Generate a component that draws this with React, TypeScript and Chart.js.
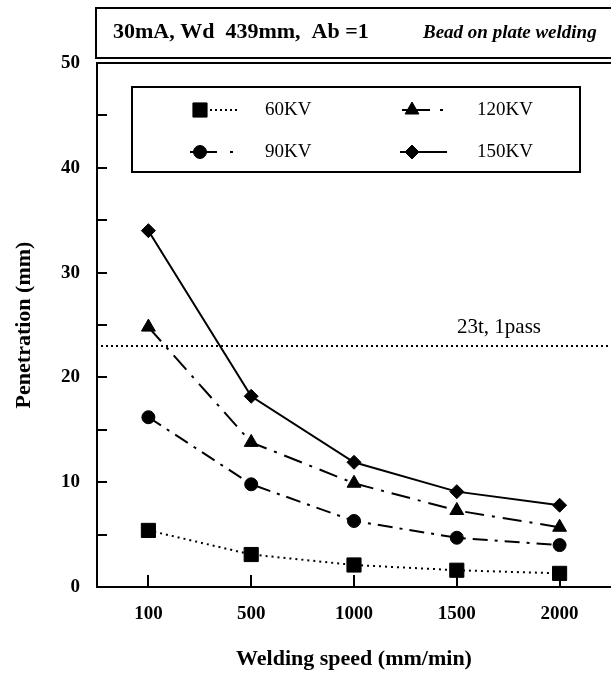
import { useEffect, useRef } from 'react';
import { Chart, registerables } from 'chart.js';
import { drawPoint } from 'chart.js/helpers';

Chart.register(...registerables);

// ---- data ----
const speeds = ['100', '500', '1000', '1500', '2000'];
const kv60 = [5.4, 3.1, 2.1, 1.6, 1.3];
const kv90 = [16.2, 9.8, 6.3, 4.7, 4.0];
const kv120 = [24.8, 13.8, 9.9, 7.3, 5.7];
const kv150 = [34.0, 18.2, 11.9, 9.1, 7.8];
const seriesNames = ['60KV', '90KV', '120KV', '150KV'];
const yLabelValues = [0, 10, 20, 30, 40, 50];
const refValue = 23;
const refLabel = '23t, 1pass';
const titleMain = '30mA, Wd  439mm,  Ab =1';
const titleItalic = 'Bead on plate welding';
const xTitle = 'Welding speed (mm/min)';
const yTitle = 'Penetration (mm)';

const SERIF = "'Liberation Serif', 'Times New Roman', serif";

const decor = {
  id: 'decor',
  beforeDatasetsDraw(chart: any) {
    const { ctx, chartArea: ca, scales } = chart;
    const x = scales.x;
    const y = scales.y;
    ctx.save();
    ctx.strokeStyle = '#000';
    ctx.lineWidth = 2;
    ctx.setLineDash([]);
    // y ticks (inward), every 5
    for (let v = 0; v <= 50; v += 5) {
      const py = Math.round(y.getPixelForValue(v));
      ctx.beginPath();
      ctx.moveTo(ca.left, py);
      ctx.lineTo(ca.left + 10, py);
      ctx.stroke();
    }
    // x ticks (inward)
    speeds.forEach((_, i) => {
      const px = Math.round(x.getPixelForValue(i));
      ctx.beginPath();
      ctx.moveTo(px, ca.bottom);
      ctx.lineTo(px, ca.bottom - 12);
      ctx.stroke();
    });
    // top frame line
    ctx.beginPath();
    ctx.moveTo(ca.left - 1, ca.top);
    ctx.lineTo(ca.right + 5, ca.top);
    ctx.stroke();
    // reference line
    const ry = Math.round(y.getPixelForValue(refValue));
    ctx.setLineDash([2, 3]);
    ctx.beginPath();
    ctx.moveTo(ca.left + 4, ry);
    ctx.lineTo(ca.right, ry);
    ctx.stroke();
    ctx.setLineDash([]);
    ctx.fillStyle = '#000';
    ctx.font = `21px ${SERIF}`;
    ctx.textBaseline = 'alphabetic';
    ctx.textAlign = 'left';
    ctx.fillText(refLabel, 457, ry - 13);
    ctx.restore();
  },
  afterDraw(chart: any) {
    const { ctx, chartArea: ca } = chart;
    ctx.save();
    ctx.strokeStyle = '#000';
    ctx.fillStyle = '#000';
    ctx.lineWidth = 2;
    ctx.setLineDash([]);
    // title box
    ctx.strokeRect(ca.left - 1, 8, ca.right - ca.left + 20, ca.top - 13);
    ctx.textBaseline = 'alphabetic';
    ctx.textAlign = 'left';
    ctx.font = `bold 22px ${SERIF}`;
    ctx.fillText(titleMain, 113, 38);
    ctx.font = `italic bold 19px ${SERIF}`;
    ctx.fillText(titleItalic, 423, 38);

    // legend box
    ctx.strokeRect(132, 87, 448, 85);
    const colX = [200, 412];
    const textX = [265, 477];
    const rowY = [110, 152];
    chart.data.datasets.forEach((ds: any, i: number) => {
      const col = Math.floor(i / 2);
      const row = i % 2;
      const mx = colX[col];
      const my = rowY[row];
      const seg = ds.legendSegment || [-10, 36];
      ctx.save();
      ctx.lineWidth = 2;
      ctx.setLineDash(ds.legendDash || []);
      ctx.beginPath();
      ctx.moveTo(mx + seg[0], my);
      ctx.lineTo(mx + seg[1], my);
      ctx.stroke();
      ctx.restore();
      ctx.save();
      ctx.lineWidth = 1;
      ctx.fillStyle = '#000';
      ctx.strokeStyle = '#000';
      drawPoint(ctx, { pointStyle: ds.pointStyle, radius: ds.pointRadius, rotation: 0, borderWidth: 1 } as any, mx, my);
      ctx.restore();
      ctx.font = `19px ${SERIF}`;
      ctx.textBaseline = 'middle';
      ctx.fillText(ds.label, textX[col], my);
    });
    ctx.restore();
  },
};

export default function App() {
  const ref = useRef<HTMLCanvasElement | null>(null);
  useEffect(() => {
    if (!ref.current) return;
    const base = {
      borderColor: '#000',
      backgroundColor: '#000',
      pointBackgroundColor: '#000',
      pointBorderColor: '#000',
      pointBorderWidth: 1,
      borderWidth: 2,
      tension: 0,
      fill: false,
    };
    const chart = new Chart(ref.current, {
      type: 'line',
      data: {
        labels: speeds,
        datasets: [
          { ...base, label: seriesNames[0], data: kv60, pointStyle: 'rect', pointRadius: 10, borderDash: [2, 4], legendDash: [2, 3], legendSegment: [0, 37] },
          { ...base, label: seriesNames[1], data: kv90, pointStyle: 'circle', pointRadius: 6.5, borderDash: [15, 7, 3, 7], legendDash: [27, 13, 3, 100], legendSegment: [-10, 34] },
          { ...base, label: seriesNames[2], data: kv120, pointStyle: 'triangle', pointRadius: 8, borderDash: [19, 8, 3, 8], legendDash: [28, 10, 3, 100], legendSegment: [-10, 31] },
          { ...base, label: seriesNames[3], data: kv150, pointStyle: 'rectRot', pointRadius: 7, borderDash: [], legendDash: [], legendSegment: [-12, 35] },
        ] as any,
      },
      options: {
        animation: false,
        responsive: false,
        devicePixelRatio: 1,
        layout: { autoPadding: false, padding: { top: 63, right: 0, left: 0, bottom: 0 } },
        plugins: { legend: { display: false }, title: { display: false }, tooltip: { enabled: false } },
        scales: {
          x: {
            type: 'category',
            offset: true,
            grid: { display: false, drawTicks: false },
            border: { display: true, color: '#000', width: 2 },
            ticks: { color: '#000', font: { family: SERIF, size: 19, weight: 'bold' }, padding: 16, maxRotation: 0, autoSkip: false },
            title: { display: true, text: xTitle, color: '#000', font: { family: SERIF, size: 22, weight: 'bold' }, padding: { top: 0, bottom: 3 } },
            afterFit: (s: any) => { s.height = 89; s.paddingLeft = 0; s.paddingRight = 0; },
          },
          y: {
            min: 0,
            max: 50,
            grid: { display: false, drawTicks: false },
            border: { display: true, color: '#000', width: 2 },
            ticks: {
              stepSize: 5,
              color: '#000',
              font: { family: SERIF, size: 19, weight: 'bold' },
              padding: 17,
              callback: (v: any) => (yLabelValues.includes(Number(v)) ? String(v) : ''),
            },
            title: { display: true, text: yTitle, color: '#000', font: { family: SERIF, size: 22, weight: 'bold' }, padding: { top: 11, bottom: 0 } },
            afterFit: (s: any) => { s.width = 97; },
          },
        },
      } as any,
      plugins: [decor],
    });
    return () => chart.destroy();
  }, []);
  return (
    <div style={{ position: 'absolute', left: 0, top: 0, width: 611, height: 676, background: '#fff', overflow: 'hidden' }}>
      <canvas ref={ref} width={611} height={676} style={{ display: 'block' }} />
    </div>
  );
}
